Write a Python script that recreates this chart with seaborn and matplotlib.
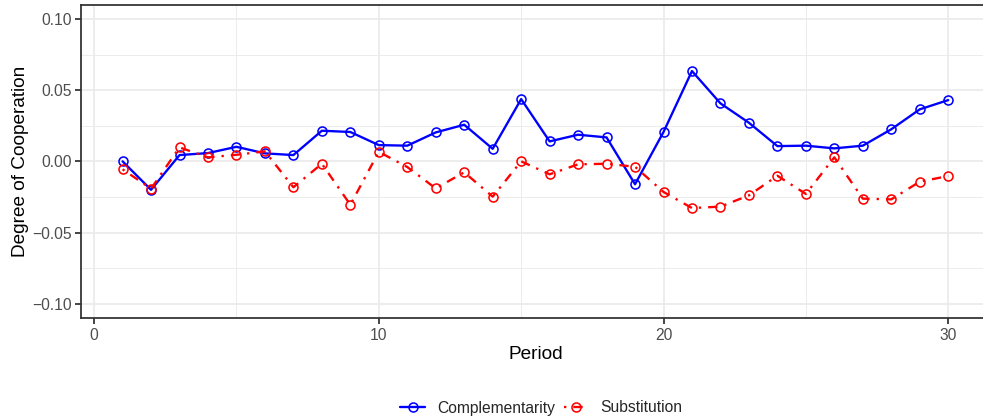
import numpy as np
import pandas as pd
import matplotlib
matplotlib.use("Agg")
import matplotlib.pyplot as plt
from matplotlib.ticker import FixedLocator, FuncFormatter
import seaborn as sns

period = list(range(1, 31))
complementarity = [0.000, -0.020, 0.0044, 0.0058, 0.0102, 0.0056, 0.0044, 0.0215, 0.0206, 0.0114,
                   0.0110, 0.0203, 0.0257, 0.0088, 0.0437, 0.0140, 0.0187, 0.0168, -0.0161, 0.0206,
                   0.0634, 0.0407, 0.0271, 0.0107, 0.0110, 0.0091, 0.0110, 0.0225, 0.0365, 0.0430]
substitution = [-0.0056, -0.0192, 0.0098, 0.0028, 0.0046, 0.0070, -0.0182, -0.0017, -0.0305, 0.0067,
                -0.0040, -0.0190, -0.0077, -0.0248, 0.0000, -0.0091, -0.0021, -0.0017, -0.0038, -0.0215,
                -0.0328, -0.0318, -0.0239, -0.0101, -0.0229, 0.0028, -0.0262, -0.0267, -0.0143, -0.0103]
series_names = ["Complementarity", "Substitution"]
x_ticks = [0, 10, 20, 30]
y_ticks = [-0.10, -0.05, 0.00, 0.05, 0.10]

df = pd.DataFrame({
    "Period": period * 2,
    "value": complementarity + substitution,
    "series": [series_names[0]] * len(period) + [series_names[1]] * len(period),
})

sns.set_theme(style="white")
plt.rcParams["font.family"] = ["Liberation Sans", "DejaVu Sans"]

DPI = 120
fig = plt.figure(figsize=(983 / DPI, 419 / DPI), dpi=DPI)
ax = fig.add_axes([0.0827, 0.2411, 0.9239, 0.7477])

styles = {
    "Complementarity": dict(color="#0000FF", linestyle="-"),
    "Substitution": dict(color="#FF0000", linestyle=(0, (1, 3, 4, 3))),
}
handles = []
for name in series_names:
    sub = df[df["series"] == name]
    sns.lineplot(data=sub, x="Period", y="value", ax=ax, color=styles[name]["color"],
                 linestyle=styles[name]["linestyle"], linewidth=1.4, marker="o",
                 markersize=5.4, markerfacecolor="none", markeredgecolor=styles[name]["color"],
                 markeredgewidth=0.95, label=name, legend=False)
    handles.append(ax.lines[-1])

ax.set_xlim(-0.45, 31.45)
ax.set_ylim(-0.11, 0.11)
ax.xaxis.set_major_locator(FixedLocator(x_ticks))
ax.xaxis.set_minor_locator(FixedLocator([5, 15, 25]))
ax.yaxis.set_major_locator(FixedLocator(y_ticks))
ax.yaxis.set_minor_locator(FixedLocator([-0.075, -0.025, 0.025, 0.075]))
ax.yaxis.set_major_formatter(FuncFormatter(lambda v, p: f"{v:.2f}".replace("-", "\u2212")))

ax.set_axisbelow(True)
ax.grid(which="major", color="#EBEBEB", linewidth=1.07)
ax.grid(which="minor", color="#EBEBEB", linewidth=0.55)
for s in ax.spines.values():
    s.set_color("#333333")
    s.set_linewidth(1.07)

ax.tick_params(axis="both", which="major", direction="out", length=3.7, width=1.07,
               color="#333333", labelcolor="#4D4D4D", labelsize=9.4, pad=2.2,
               bottom=True, left=True)
ax.tick_params(which="minor", length=0)

ax.set_xlabel("Period", fontsize=11.4, color="black", labelpad=2)
ax.set_ylabel("Degree of Cooperation", fontsize=11.4, color="black", labelpad=1.5)

fig.legend(handles, series_names, loc="center", bbox_to_anchor=(541.5 / 983, 1 - 408 / 419),
           ncol=2, frameon=False, fontsize=9.4, handlelength=1.6, handletextpad=0.75,
           columnspacing=0.55, numpoints=1)

fig.savefig("out.png", dpi=DPI)
